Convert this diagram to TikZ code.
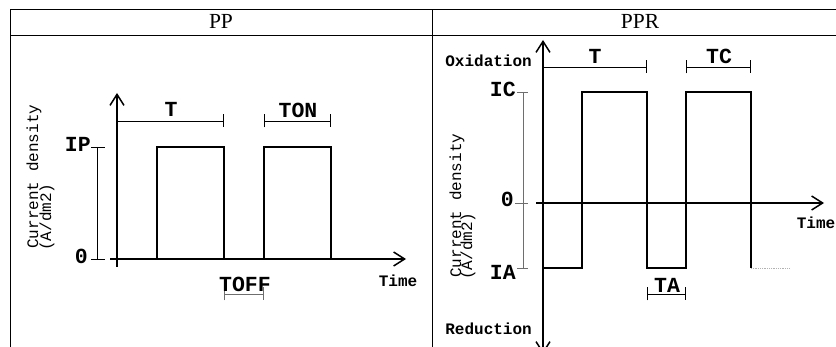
\documentclass[tikz,border=0pt]{standalone}
\usepackage{fontspec}
\setmainfont{Liberation Serif}
\newfontfamily\plotfont{Liberation Mono}
\usetikzlibrary{arrows.meta}
\definecolor{DimGray}{RGB}{110,110,110}

\begin{document}
\begin{tikzpicture}[x=1pt,y=-1pt, every node/.style={inner sep=0pt},
  tbl/.style={line width=1pt},
  hdr/.style={font=\fontsize{21.5}{22}\selectfont},
  biglbl/.style={font=\plotfont\bfseries\fontsize{21.5}{22}\selectfont},
  smlbl/.style={font=\plotfont\bfseries\fontsize{16}{17}\selectfont},
  cdlbl/.style={font=\plotfont\fontsize{16}{17}\selectfont, rotate=90, anchor=base west},
  axis/.style={line width=1.5pt, -{Straight Barb[length=11pt,width=14pt]}},
  wave/.style={line width=2pt, line join=miter},
  dimline/.style={line width=0.9pt},
  bartip/.style={{Bar[width=13pt]}-{Bar[width=13pt]}}]
  \clip (0,0) rectangle (836,347);
  \useasboundingbox (0,0) rectangle (836,347);

  % table frame
  \draw[tbl] (10,347) -- (10,10) -- (836,10);
  \draw[tbl] (10,36) -- (836,36);
  \draw[tbl] (432,10) -- (432,347);
  \node[hdr, anchor=base] (pp) at (221,29) {PP};
  \node[hdr, anchor=base] (ppr) at (640,29) {PPR};

  % PP panel
  \draw[axis] (117,267) -- (117,93);
  \draw[axis] (110,259) -- (406,259);
  \draw[wave] (117,259) -- (157,259) -- (157,147) -- (224,147) -- (224,259)
    -- (264,259) -- (264,147) -- (331,147) -- (331,259);
  \draw[dimline] (91,147) -- (105,147);
  \draw[dimline] (97,147) -- (97,259);
  \draw[dimline] (91,259) -- (105,259);
  \draw[dimline, -{Bar[width=13pt]}] (117,121) -- (224,121);
  \draw[dimline, bartip] (264,121) -- (331,121);
  \draw[dimline, DimGray, bartip] (224,294) -- (264,294);
  \node[biglbl, anchor=base] (tp) at (171,117) {T};
  \node[biglbl, anchor=base] (ton) at (298,118) {TON};
  \node[biglbl, anchor=base] (toff) at (245,292) {TOFF};
  \node[biglbl, anchor=base east] (ip) at (91,152) {IP};
  \node[biglbl, anchor=base east] (zp) at (88,264) {0};
  \node[smlbl, anchor=base] (timep) at (398,287) {Time};
  \node[cdlbl] (cdp) at (38,249) {Current density};
  \node[cdlbl] (unitp) at (51,251) {(A/dm2)};

  % PPR panel
  \draw[axis, {Straight Barb[length=11pt,width=14pt]}-{Straight Barb[length=11pt,width=14pt]}]
    (543,354) -- (543,40);
  \draw[axis] (536,203) -- (824,203);
  \draw[wave] (543,268) -- (582,268) -- (582,92) -- (647,92) -- (647,268)
    -- (686,268) -- (686,92) -- (751,92) -- (751,268);
  \draw[gray!60, line width=0.8pt, densely dotted] (751,268) -- (789,268);
  \draw[dimline, DimGray] (517,92) -- (528,92);
  \draw[dimline, DimGray] (523,92) -- (523,268);
  \draw[dimline, DimGray] (517,268) -- (528,268);
  \draw[dimline, DimGray] (515,203) -- (528,203);
  \draw[dimline, -{Bar[width=13pt]}] (543,67) -- (647,67);
  \draw[dimline, bartip] (686,67) -- (751,67);
  \draw[dimline, bartip] (647,294) -- (686,294);
  \node[biglbl, anchor=base] (tr) at (595,64) {T};
  \node[biglbl, anchor=base] (tc) at (719,64) {TC};
  \node[biglbl, anchor=base] (ta) at (667,293) {TA};
  \node[biglbl, anchor=base east] (ic) at (516,97) {IC};
  \node[biglbl, anchor=base east] (zr) at (514,207) {0};
  \node[biglbl, anchor=base east] (ia) at (516,280) {IA};
  \node[smlbl, anchor=base east] (oxi) at (532,67) {Oxidation};
  \node[smlbl, anchor=base east] (red) at (532,335) {Reduction};
  \node[smlbl, anchor=base] (timer) at (816,229) {Time};
  \node[cdlbl] (cdr) at (461,278) {Current density};
  \node[cdlbl] (unitr) at (472,280) {(A/dm2)};
\end{tikzpicture}
\end{document}
